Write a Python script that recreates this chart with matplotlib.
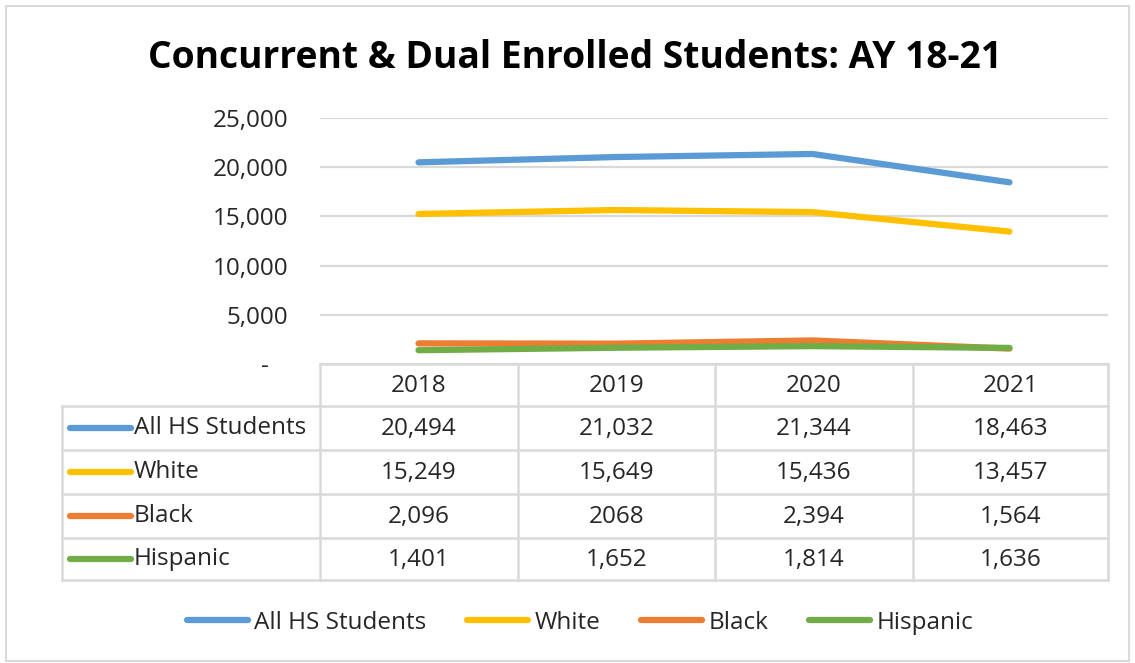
import matplotlib.pyplot as plt
from matplotlib.ticker import FuncFormatter

# chart data
years = ['2018', '2019', '2020', '2021']
series_names = ['All HS Students', 'White', 'Black', 'Hispanic']
all_hs = [20494, 21032, 21344, 18463]
white = [15249, 15649, 15436, 13457]
black = [2096, 2068, 2394, 1564]
hispanic = [1401, 1652, 1814, 1636]
# table text as shown in the source (one value has no thousands separator)
table_text = [
    ['20,494', '21,032', '21,344', '18,463'],
    ['15,249', '15,649', '15,436', '13,457'],
    ['2,096', '2068', '2,394', '1,564'],
    ['1,401', '1,652', '1,814', '1,636'],
]
colors = ['#5B9BD5', '#FFC000', '#ED7D31', '#70AD47']
yticks = [0, 5000, 10000, 15000, 20000, 25000]

plt.rcParams['font.family'] = ['Open Sans', 'DejaVu Sans']

W, H = 1135, 663
fig = plt.figure(figsize=(W / 100, H / 100), dpi=100)

# pixel layout
px_left, px_right = 320, 1108
px_top, px_zero = 118, 364
grid_col = '#D9D9D9'
txt_col = '#262626'
fs = 17.5

ax = fig.add_axes([px_left / W, 1 - px_zero / H, (px_right - px_left) / W, (px_zero - px_top) / H])
ax.set_xlim(-0.5, len(years) - 0.5)
ax.set_ylim(0, 25000)
ax.set_yticks(yticks)
ax.yaxis.set_major_formatter(FuncFormatter(lambda v, p: '-   ' if v == 0 else f'{int(v):,}'))
ax.tick_params(axis='y', length=0, pad=23, labelsize=fs, labelcolor=txt_col)
ax.set_xticks([])
for s in ax.spines.values():
    s.set_visible(False)
ax.grid(axis='y', color=grid_col, lw=1.6)
ax.set_axisbelow(True)

x = range(len(years))
for vals, name, c in zip([all_hs, white, black, hispanic], series_names, colors):
    ax.plot(x, vals, color=c, lw=4.5, solid_capstyle='round', solid_joinstyle='round', label=name)

# overlay axes in pixel units for frame, title and data table
ov = fig.add_axes([0, 0, 1, 1], zorder=-1)
ov.set_xlim(0, W)
ov.set_ylim(H, 0)
ov.axis('off')
ov.add_patch(plt.Rectangle((6, 6), W - 12, H - 8, fill=False, ec='#D9D9D9', lw=1.5))

ov.text(575, 58, 'Concurrent & Dual Enrolled Students: AY 18-21', ha='center', va='center',
        fontsize=26.8, fontweight='bold', color='black')

# table grid
row_edges = [406, 450, 494, 538, 580]
col_edges = [320, 518, 715, 913, 1108]
tab_left = 62
ov.plot([px_left, px_right], [px_zero, px_zero], color=grid_col, lw=1.8)
for y in row_edges:
    ov.plot([tab_left, px_right], [y, y], color=grid_col, lw=1.8)
for xc in col_edges:
    ov.plot([xc, xc], [px_zero, row_edges[-1]], color=grid_col, lw=1.8)
ov.plot([tab_left, tab_left], [row_edges[0], row_edges[-1]], color=grid_col, lw=1.8)

hdr_y = (px_zero + row_edges[0]) / 2
for j, yr in enumerate(years):
    xc = (col_edges[j] + col_edges[j + 1]) / 2
    ov.text(xc, hdr_y + 1, yr, ha='center', va='center', fontsize=fs, color=txt_col)

for i, name in enumerate(series_names):
    yc = (row_edges[i] + row_edges[i + 1]) / 2
    ov.plot([70, 131], [yc, yc], color=colors[i], lw=4.5, solid_capstyle='round')
    ov.text(134, yc, name, ha='left', va='center', fontsize=fs, color=txt_col)
    for j in range(len(years)):
        xc = (col_edges[j] + col_edges[j + 1]) / 2
        ov.text(xc, yc + 1, table_text[i][j], ha='center', va='center', fontsize=fs, color=txt_col)

# legend at the bottom
fig.legend(loc='center', bbox_to_anchor=(580 / W, 1 - 623 / H), ncol=4, frameon=False,
           fontsize=fs, handlelength=2.5, handletextpad=0.25, columnspacing=1.7,
           labelcolor=txt_col)

fig.savefig('out.png', dpi=100, facecolor='white')
